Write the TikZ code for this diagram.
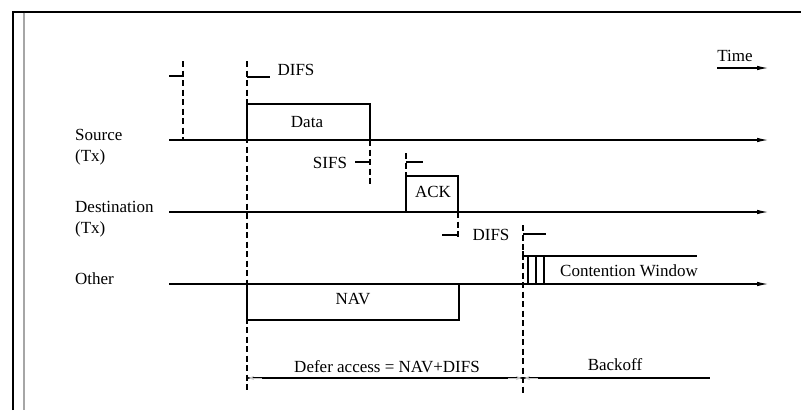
\documentclass[tikz,border=0pt]{standalone}
\usepackage{fontspec}
\setmainfont{Liberation Serif}
\usetikzlibrary{arrows.meta}
\begin{document}
\begin{tikzpicture}[x=1pt,y=-1pt,
  lbl/.style={inner sep=0pt,font=\fontsize{17}{19}\selectfont},
  tline/.style={line width=1.4pt,-{Latex[length=12pt,width=4.5pt]}},
  sline/.style={line width=1.4pt},
  dsh/.style={line width=1.4pt,dash pattern=on 6pt off 3.5pt},
  tick/.style={line width=1.4pt},
  gtip/.style={gray!45,line width=0.8pt}
]
\useasboundingbox (0,0) rectangle (801,410);
% frame
\draw[line width=1.8pt] (13,410) -- (13,11.8) -- (801,11.8);
\draw[line width=2.4pt,gray!70] (24,12.5) -- (24,410);

% timeline coordinates
\coordinate (s0) at (169,140); \coordinate (s1) at (769,140);
\coordinate (d0) at (169,212); \coordinate (d1) at (769,212);
\coordinate (o0) at (169,284); \coordinate (o1) at (769,284);
\coordinate (t0) at (717,68);  \coordinate (t1) at (769,68);

% labels
\node[lbl,anchor=west] (src) at (75,135) {Source};
\node[lbl,anchor=west] (srctx) at (75,157) {(Tx)};
\node[lbl,anchor=west] (dst) at (75,207) {Destination};
\node[lbl,anchor=west] (dsttx) at (75,229) {(Tx)};
\node[lbl,anchor=west] (oth) at (75,279) {Other};
\node[lbl] (time) at (735,56) {Time};

% time lines
\draw[tline] (s0) -- (s1);
\draw[tline] (d0) -- (d1);
\draw[tline] (o0) -- (o1);
\draw[tline] (t0) -- (t1);

% first dashed marker before DIFS
\coordinate (a0) at (183,61); \coordinate (a1) at (183,140);
\draw[dsh] (a0) -- (a1);
\coordinate (a2) at (169,76);
\draw[tick] (a2) -- (183,76);

% main dashed at 247
\coordinate (b0) at (247,61); \coordinate (b1) at (247,393);
\draw[dsh] (b0) -- (b1);
\draw[tick] (247,77) -- (270,77);
\node[lbl] (difs1) at (296,70) {DIFS};

% data box
\draw[sline] (247,140) -- (247,104) -- (370,104) -- (370,140);
\node[lbl] (data) at (307,122) {Data};

% SIFS
\draw[dsh] (370,140) -- (370,186);
\draw[tick] (355,162) -- (370,162);
\node[lbl] (sifs) at (330,163) {SIFS};

% ACK
\draw[dsh] (406,153) -- (406,176);
\draw[tick] (406,162) -- (423,162);
\draw[sline] (406,212) -- (406,176) -- (458,176) -- (458,212);
\node[lbl] (ack) at (433,192) {ACK};

% DIFS after ACK
\draw[dsh] (458,212) -- (458,239);
\draw[tick] (442,235) -- (458,235);
\node[lbl] (difs2) at (491,235) {DIFS};

% dashed at 523
\coordinate (c0) at (523,225); \coordinate (c1) at (523,393);
\draw[dsh] (c0) -- (c1);
\draw[tick] (523,234) -- (546,234);

% contention window
\draw[sline] (523,251) -- (523,256) -- (697,256);
\foreach \xx in {528,536,544} \draw[sline] (\xx,256) -- (\xx,284);
\node[lbl] (cw) at (629,271) {Contention Window};

% NAV box
\draw[sline] (247,284) -- (247,320) -- (459,320) -- (459,284);
\node[lbl] (nav) at (353,299) {NAV};

% defer / backoff line
\draw[sline] (247,378) -- (710,378);
\draw[gtip,-{Stealth[length=6pt,width=4pt]}] (262,378) -- (248,378);
\draw[gtip,-{Stealth[length=6pt,width=4pt]}] (508,378) -- (522,378);
\draw[gtip,-{Stealth[length=6pt,width=4pt]}] (538,378) -- (524,378);
\node[lbl] (defer) at (387,367) {Defer access = NAV+DIFS};
\node[lbl] (backoff) at (615,365) {Backoff};
\end{tikzpicture}
\end{document}
